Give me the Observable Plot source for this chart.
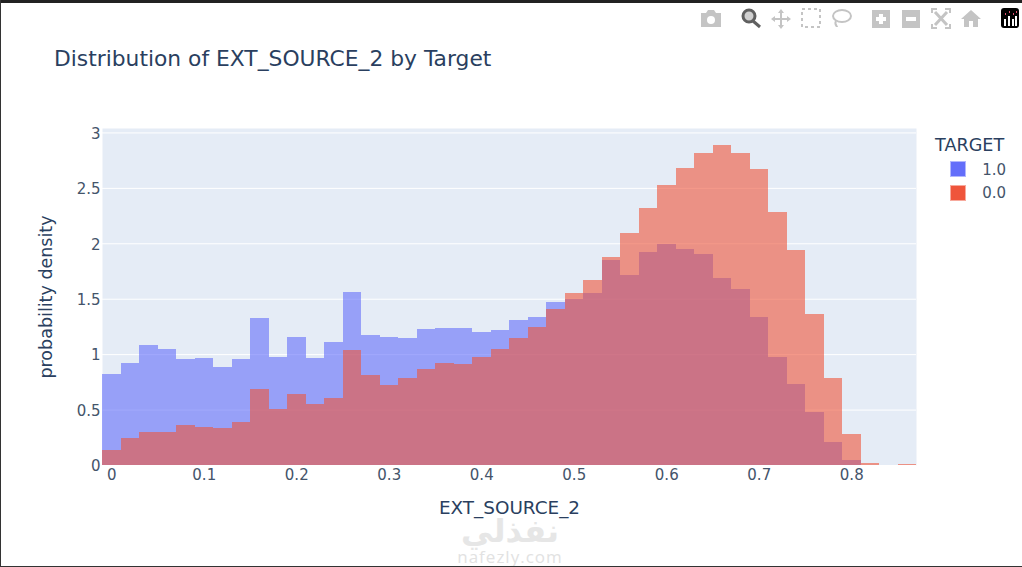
<!DOCTYPE html>
<html>
<head>
<meta charset="utf-8">
<script src="https://cdn.jsdelivr.net/npm/d3@7"></script>
<script src="https://cdn.jsdelivr.net/npm/@observablehq/plot@0.6"></script>
<style>
  html, body { margin: 0; padding: 0; background: #fff; overflow: hidden; }
  #page { position: relative; width: 1022px; height: 567px; overflow: hidden; font-family: "DejaVu Sans", sans-serif; color: #2a3f5f; }
  #chart svg { position: absolute; left: 0; top: 0; }
  .abs { position: absolute; white-space: nowrap; line-height: 1; }
  #title { left: 54px; top: 48px; font-size: 21.8px; }
  #legend-title { left: 935px; top: 137px; font-size: 17.6px; }
  .swatch { position: absolute; left: 950px; width: 14px; height: 14px; border: 0.5px solid rgba(255,255,255,.5); }
  .legend-label { right: 16px; font-size: 15px; color: #44546a; }
  #edge-top { left: 0; top: 0; width: 1022px; height: 3px; background: #222; }
  #edge-left { left: 0; top: 0; width: 1px; height: 567px; background: #333; }
  #edge-bottom { left: 0; top: 566px; width: 1022px; height: 1px; background: #333; }
  #wm-ar { left: 445px; top: 512px; width: 130px; text-align: center; font: bold 32px "DejaVu Sans", sans-serif; color: #e6e6e6; }
  #wm-en { left: 445px; top: 547px; width: 130px; text-align: center; font: 17px/1.2 "Open Sans", sans-serif; letter-spacing: 1px; color: #e2e2e2; }
  #modebar { position: absolute; left: 0; top: 0; }
</style>
</head>
<body>
<div id="page">
  <div class="abs" id="wm-ar">نفذلي</div>
  <div class="abs" id="wm-en">nafezly.com</div>
  <div id="chart"></div>
  <div class="abs" id="title">Distribution of EXT_SOURCE_2 by Target</div>
  <div class="abs" id="legend-title">TARGET</div>
  <div class="swatch" style="top:161px;background:#636efa"></div>
  <div class="abs legend-label" style="top:163px">1.0</div>
  <div class="swatch" style="top:185px;background:#ef553b"></div>
  <div class="abs legend-label" style="top:186px">0.0</div>
  <svg id="modebar" width="1022" height="40">
    <g fill="#c4c4c4" stroke="none">
      <path d="M701 13h5l2-3h6l2 3h5v14h-20z"/>
      <circle cx="711" cy="20" r="4" fill="#fff"/>
      <path d="M872 10h18v18h-18zM879 14v3h-3v4h3v3h4v-3h3v-4h-3v-3z" fill-rule="evenodd"/>
      <path d="M902 10h18v18h-18zM906 17v4h10v-4z" fill-rule="evenodd"/>
      <path d="M781 9l3 4h-2v5h5v-2l4 3-4 3v-2h-5v5h2l-3 4-3-4h2v-5h-5v2l-4-3 4-3v2h5v-5h-2z"/>
      <path d="M971 10l10 9h-3v8h-5v-6h-4v6h-5v-8h-3z"/>
    </g>
    <g fill="none" stroke="#c4c4c4">
      <rect x="802" y="9" width="18" height="18" stroke-width="2" stroke-dasharray="3 3"/>
      <ellipse cx="842" cy="16" rx="9" ry="6" stroke-width="2"/>
      <path d="M836 21c-2 3 1 5 1 6" stroke-width="2"/>
      <path d="M932 13v-4h5M945 9h5v4M950 24v4h-5M937 28h-5v-4" stroke-width="2"/>
      <path d="M935 12l12 13M947 12l-12 13" stroke-width="3"/>
    </g>
    <circle cx="749" cy="16" r="6" fill="#d0d0d0" stroke="#606060" stroke-width="3"/>
    <path d="M753 21l7 6" stroke="#606060" stroke-width="3"/>
    <rect x="1001" y="8" width="18" height="20" rx="3" fill="#000"/>
    <path d="M1005 19v7M1009 16v10M1013 19v7M1016 16v10" stroke="#fff" stroke-width="2"/>
    <path d="M1005 14h1M1009 12h1M1013 14h1M1016 12h1" stroke="#e05070" stroke-width="2"/>
  </svg>
  <div class="abs" id="edge-top"></div>
  <div class="abs" id="edge-left"></div>
  <div class="abs" id="edge-bottom"></div>
</div>
<script>
const binStarts = [-0.01,0.01,0.03,0.05,0.07,0.09,0.11,0.13,0.15,0.17,0.19,0.21,0.23,0.25,0.27,0.29,0.31,0.33,0.35,0.37,0.39,0.41,0.43,0.45,0.47,0.49,0.51,0.53,0.55,0.57,0.59,0.61,0.63,0.65,0.67,0.69,0.71,0.73,0.75,0.77,0.79,0.81,0.83,0.85];
const binEnds = [0.01,0.03,0.05,0.07,0.09,0.11,0.13,0.15,0.17,0.19,0.21,0.23,0.25,0.27,0.29,0.31,0.33,0.35,0.37,0.39,0.41,0.43,0.45,0.47,0.49,0.51,0.53,0.55,0.57,0.59,0.61,0.63,0.65,0.67,0.69,0.71,0.73,0.75,0.77,0.79,0.81,0.83,0.85,0.87];
const target1 = [0.824,0.918,1.08,1.044,0.954,0.963,0.881,0.954,1.324,0.972,1.152,0.963,1.107,1.558,1.17,1.152,1.143,1.224,1.233,1.233,1.197,1.215,1.306,1.333,1.468,1.495,1.549,1.847,1.712,1.919,1.992,1.946,1.901,1.685,1.585,1.333,0.972,0.728,0.475,0.205,0.048,0,0,0];
const target0 = [0.138,0.247,0.295,0.295,0.358,0.34,0.331,0.385,0.683,0.502,0.638,0.548,0.602,1.035,0.809,0.719,0.782,0.863,0.918,0.909,0.972,1.044,1.143,1.242,1.405,1.549,1.667,1.874,2.09,2.316,2.524,2.677,2.813,2.885,2.813,2.668,2.283,1.937,1.36,0.782,0.277,0.015,0,0.006];
const xTicks = [0,0.1,0.2,0.3,0.4,0.5,0.6,0.7,0.8];
const yTicks = [0,0.5,1,1.5,2,2.5,3];
const xLabel = "EXT_SOURCE_2";
const yLabel = "probability density";
const colors = {one: "#636efa", zero: "#ef553b"};
const panelBg = "#e5ecf6";
const tickColor = "#44546a";
const titleColor = "#2a3f5f";

const rows = s => binStarts.map((b, i) => ({x1: b, x2: binEnds[i], y: s[i]}));

const chart = Plot.plot({
  width: 1022,
  height: 567,
  marginLeft: 102,
  marginRight: 106,
  marginTop: 128,
  marginBottom: 102,
  style: {background: "transparent", fontFamily: "DejaVu Sans, sans-serif", color: titleColor, overflow: "visible"},
  x: {domain: [-0.01, 0.87]},
  y: {domain: [0, 3.04]},
  marks: [
    Plot.frame({fill: panelBg, stroke: "none"}),
    Plot.gridY(yTicks, {stroke: "#fff", strokeOpacity: 1, strokeWidth: 1}),
    Plot.rectY(rows(target1), {x1: "x1", x2: "x2", y: "y", fill: colors.one, fillOpacity: 0.6, shapeRendering: "crispEdges"}),
    Plot.rectY(rows(target0), {x1: "x1", x2: "x2", y: "y", fill: colors.zero, fillOpacity: 0.6, shapeRendering: "crispEdges"}),
    Plot.axisX({ticks: xTicks, tickFormat: d => String(d), tickSize: 0, tickPadding: 4, label: null, fontSize: 15, color: tickColor}),
    Plot.axisY({ticks: yTicks, tickFormat: d => String(d), tickSize: 0, tickPadding: 2, label: null, fontSize: 15, color: tickColor, dy: 1}),
    Plot.axisX({ticks: [], tickSize: 0, label: xLabel, labelAnchor: "center", labelArrow: "none", labelOffset: 48, fontSize: 18.4, color: titleColor}),
    Plot.axisY({ticks: [], tickSize: 0, label: yLabel, labelAnchor: "center", labelArrow: "none", labelOffset: 63, fontSize: 17.5, color: titleColor})
  ]
});
document.getElementById("chart").appendChild(chart);
</script>
</body>
</html>
